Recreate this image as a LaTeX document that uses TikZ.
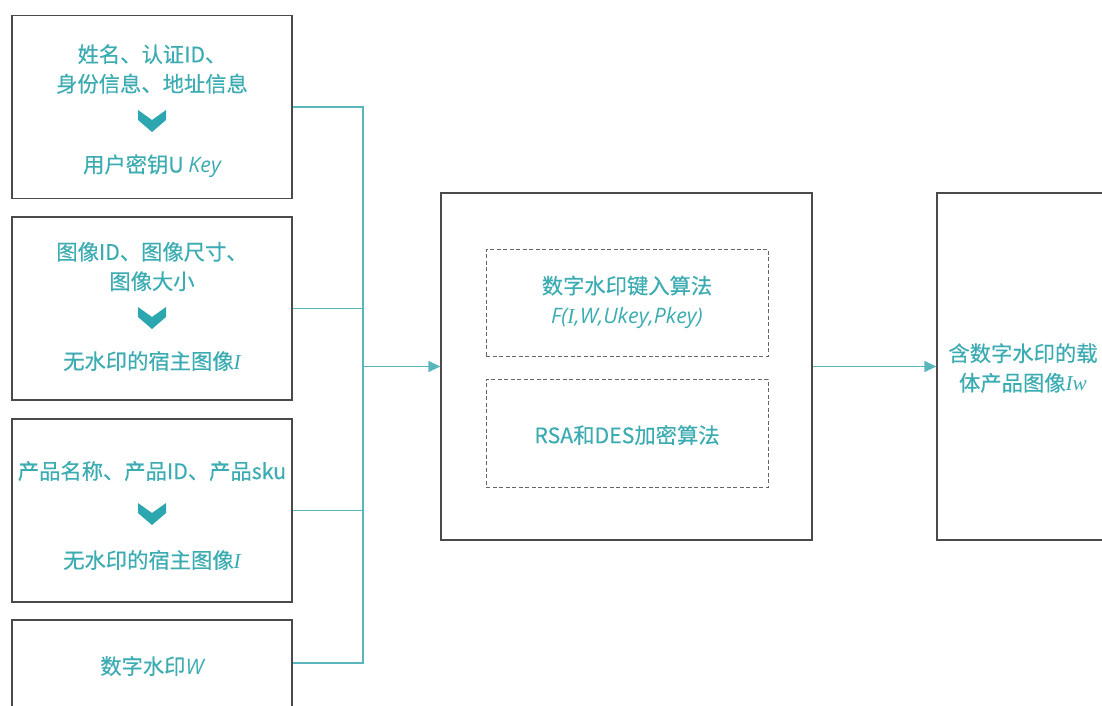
\documentclass[tikz,border=0pt]{standalone}
\usepackage{fontspec}
\usetikzlibrary{arrows.meta}
\newfontfamily\cjk{Noto Sans CJK SC}[FakeBold=0.35]
\newfontfamily\latit{Open Sans}[UprightFont=* Italic]
\newfontfamily\serit{Liberation Serif}[UprightFont=* Italic]
\definecolor{tealtxt}{HTML}{3CACB3}
\definecolor{tealline}{HTML}{5AB6BD}
\definecolor{tealchev}{HTML}{2CA7AF}
\definecolor{boxgray}{HTML}{4A4A4A}
\tikzset{
  box/.style={draw=boxgray, line width=1.3pt, fill=white, inner sep=0pt},
  dbox/.style={draw=boxgray!85, line width=0.9pt, dash pattern=on 4pt off 2.5pt, inner sep=0pt},
  txt/.style={text=tealtxt, font=\cjk\fontsize{21.3}{29.5}\selectfont, align=center, inner sep=0pt},
  conn/.style={draw=tealline, line width=1.3pt},
  arr/.style={conn, -{Triangle[length=12pt,width=11pt]}},
  chev/.style={fill=tealchev, draw=none}
}
\newcommand{\chevron}[2]{%
  \fill[chev] (#1-14,#2-11) -- (#1,#2-1) -- (#1+14,#2-11) -- (#1+14,#2-1) -- (#1,#2+11) -- (#1-14,#2-1) -- cycle;}
\begin{document}
\begin{tikzpicture}[x=1pt,y=-1pt]
\useasboundingbox (0,0) rectangle (1102,706);
\clip (0,0) rectangle (1102,706);
\fill[white] (0,0) rectangle (1102,706);
% left boxes
\node[box, minimum width=280pt, minimum height=183pt] (b1) at (152,107) {};
\node[box, minimum width=280pt, minimum height=183pt] (b2) at (152,308.5) {};
\node[box, minimum width=280pt, minimum height=183pt] (b3) at (152,510.5) {};
\node[box, minimum width=280pt, minimum height=100pt] (b4) at (152,670) {};
% middle and right boxes
\node[box, minimum width=371pt, minimum height=347pt] (mid) at (626.5,366.5) {};
\node[box, minimum width=172pt, minimum height=347pt] (out) at (1023,366.5) {};
\node[dbox, minimum width=282pt, minimum height=107pt] (d1) at (627,302.5) {};
\node[dbox, minimum width=282pt, minimum height=108pt] (d2) at (627,433) {};
% texts box1
\node[txt] (t1a) at (152,69) {姓名、认证ID、\\身份信息、地址信息};
\chevron{152}{121}
\node[txt] (t1b) at (152,166) {用户密钥U {\latit Key}};
% box2
\node[txt] (t2a) at (152,266.5) {图像ID、图像尺寸、\\图像大小};
\chevron{152}{318}
\node[txt] (t2b) at (152,361) {无水印的宿主图像{\serit I}};
% box3
\node[txt] (t3a) at (152,471) {产品名称、产品ID、产品sku};
\chevron{152}{514}
\node[txt] (t3b) at (152,560) {无水印的宿主图像{\serit I}};
% box4
\node[txt] (t4) at (152,666) {数字水印{\latit W}};
% middle texts
\node[txt] (m1) at (627,302) {数字水印键入算法\\{\latit F(}{\serit I}{\latit ,W,Ukey,Pkey)}};
\node[txt] (m2) at (627,435) {RSA和DES加密算法};
% right text
\node[txt] (o1) at (1023,368) {含数字水印的载\\体产品图像{\serit Iw}};
% connectors
\coordinate (bt) at (363,107);
\coordinate (bb) at (363,663);
\draw[conn] (b1.east) -- (bt) -- (bb) -- (bb -| b4.east);
\draw[conn] (b2.east) -- (b2.east -| bt);
\draw[conn] (b3.east) -- (b3.east -| bt);
\draw[arr] (mid.west -| bt) -- (mid.west);
\draw[arr] (mid.east) -- (out.west);
\end{tikzpicture}
\end{document}
